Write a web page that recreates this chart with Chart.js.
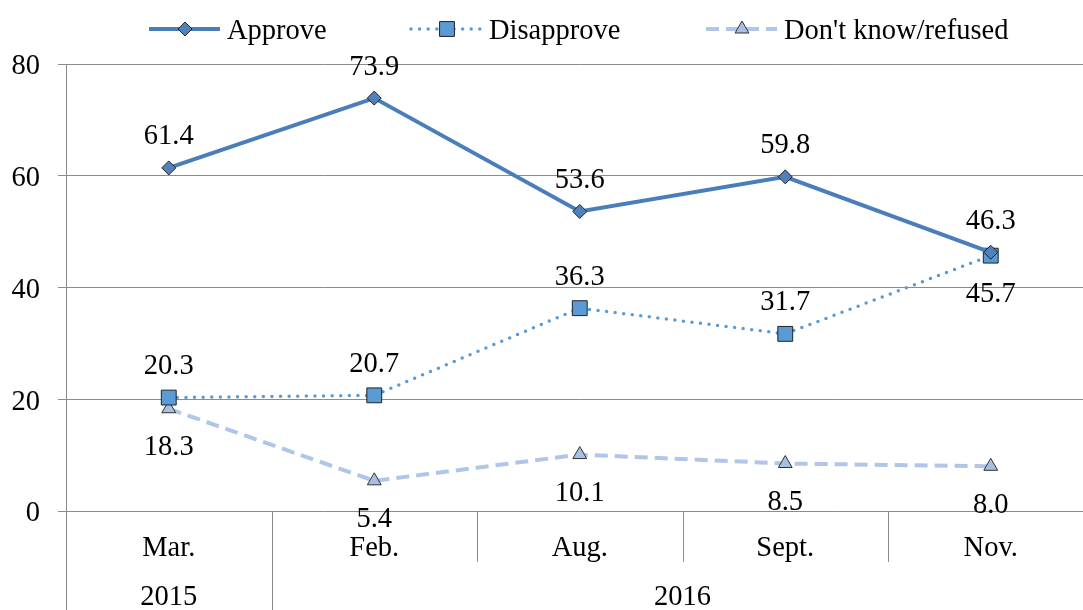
<!DOCTYPE html>
<html>
	<head>
		<title>Approve / Disapprove</title>
		<script src="https://cdnjs.cloudflare.com/ajax/libs/Chart.js/4.4.1/chart.umd.min.js"></script>
		<style>
			html, body {
				margin: 0;
				padding: 0;
				overflow: hidden;
				background: #fff;
			}
			canvas {
				display: block;
			}
		</style>
	</head>
	<body>
		<canvas id="lineChart" width="1105" height="610"></canvas>
		<script>
			// Data
			const months = ["Mar.", "Feb.", "Aug.", "Sept.", "Nov."];
			const years = ["2015", "2016", "2016", "2016", "2016"];
			const approve = [61.4, 73.9, 53.6, 59.8, 46.3];
			const disapprove = [20.3, 20.7, 36.3, 31.7, 45.7];
			const dontKnow = [18.3, 5.4, 10.1, 8.5, 8.0];
			const yTicks = [0, 20, 40, 60, 80];

			const FONT = "'Liberation Serif', 'Times New Roman', serif";
			const FONT_SIZE = 28.5;
			const GRID = "#8c8c8c";

			// where each value label sits: -1 above the point, 1 below
			const labelSide = [
				[-1, -1, -1, -1, -1],
				[-1, -1, -1, -1, 1],
				[1, 1, 1, 1, 1],
			];

			const legendX = [149, 411, 706];

			function drawMarker(ctx, style, x, y, r, fill, stroke) {
				ctx.save();
				ctx.fillStyle = fill;
				ctx.strokeStyle = stroke;
				ctx.lineWidth = 1;
				ctx.setLineDash([]);
				ctx.beginPath();
				if (style === "rectRot") {
					ctx.moveTo(x, y - r);
					ctx.lineTo(x + r, y);
					ctx.lineTo(x, y + r);
					ctx.lineTo(x - r, y);
				} else if (style === "rect") {
					const s = r * Math.SQRT1_2;
					ctx.rect(x - s, y - s, 2 * s, 2 * s);
				} else {
					ctx.moveTo(x, y - r);
					ctx.lineTo(x + r * 0.866, y + r * 0.5);
					ctx.lineTo(x - r * 0.866, y + r * 0.5);
				}
				ctx.closePath();
				ctx.fill();
				ctx.stroke();
				ctx.restore();
			}

			const extrasPlugin = {
				id: "extras",
				afterDraw(chart) {
					const ctx = chart.ctx;
					const area = chart.chartArea;
					const x = chart.scales.x;
					const h = chart.height;
					const step = x.getPixelForValue(1) - x.getPixelForValue(0);

					// category separators and the year row
					ctx.save();
					ctx.strokeStyle = GRID;
					ctx.lineWidth = 1;
					const bounds = [];
					for (let i = 0; i <= months.length; i++) {
						bounds.push(x.getPixelForValue(0) - step / 2 + i * step);
					}
					bounds.forEach((bx, i) => {
						const yearEdge = i === 0 || i === months.length || years[i] !== years[i - 1];
						const px = Math.round(bx) + 0.5;
						ctx.beginPath();
						ctx.moveTo(px, area.bottom);
						ctx.lineTo(px, yearEdge ? h : area.bottom + 51);
						ctx.stroke();
					});

					ctx.fillStyle = "#000";
					ctx.font = FONT_SIZE + "px " + FONT;
					ctx.textAlign = "center";
					ctx.textBaseline = "middle";
					let start = 0;
					for (let i = 1; i <= years.length; i++) {
						if (i === years.length || years[i] !== years[start]) {
							const cx = (bounds[start] + bounds[i]) / 2;
							ctx.fillText(years[start], cx, 598);
							start = i;
						}
					}

					// value labels
					chart.data.datasets.forEach((ds, di) => {
						const meta = chart.getDatasetMeta(di);
						meta.data.forEach((pt, i) => {
							const off = labelSide[di][i] < 0 ? -31 : 39;
							ctx.fillText(ds.data[i].toFixed(1), pt.x, pt.y + off);
						});
					});

					// legend
					chart.data.datasets.forEach((ds, di) => {
						const lx = legendX[di];
						const ly = 29;
						ctx.save();
						ctx.strokeStyle = ds.borderColor;
						ctx.lineWidth = ds.borderWidth;
						ctx.lineCap = ds.borderCapStyle || "butt";
						ctx.setLineDash(ds.borderDash || []);
						ctx.beginPath();
						ctx.moveTo(lx, ly);
						ctx.lineTo(lx + 71, ly);
						ctx.stroke();
						ctx.restore();
						drawMarker(ctx, ds.pointStyle, lx + 36, ly, ds.pointRadius, ds.pointBackgroundColor, ds.pointBorderColor);
						ctx.textAlign = "left";
						ctx.fillText(ds.label, lx + 78, ly + 3);
					});
					ctx.restore();
				},
			};

			const data = {
				labels: months,
				datasets: [
					{
						label: "Approve",
						data: approve,
						borderColor: "#4a7ebb",
						borderWidth: 4,
						pointStyle: "rectRot",
						pointRadius: 7,
						pointBackgroundColor: "#4f81bd",
						pointBorderColor: "#222",
						pointBorderWidth: 1,
						tension: 0,
					},
					{
						label: "Disapprove",
						data: disapprove,
						borderColor: "#5b9bd5",
						borderWidth: 3.5,
						borderDash: [0, 8.6],
						borderCapStyle: "round",
						pointStyle: "rect",
						pointRadius: 10.5,
						pointBackgroundColor: "#5b9bd5",
						pointBorderColor: "#222",
						pointBorderWidth: 1,
						tension: 0,
					},
					{
						label: "Don't know/refused",
						data: dontKnow,
						borderColor: "#b0c6e8",
						borderWidth: 4,
						borderDash: [13, 7],
						pointStyle: "triangle",
						pointRadius: 8,
						pointBackgroundColor: "#a7bfe2",
						pointBorderColor: "#333",
						pointBorderWidth: 1,
						tension: 0,
					},
				],
			};

			const config = {
				type: "line",
				data: data,
				plugins: [extrasPlugin],
				options: {
					responsive: false,
					animation: false,
					layout: {
						padding: { top: 64, right: 0, left: 0, bottom: 0 },
					},
					plugins: {
						legend: { display: false },
						tooltip: { enabled: false },
					},
					scales: {
						x: {
							offset: true,
							grid: { display: false },
							border: { display: false },
							ticks: {
								color: "#000",
								font: { family: FONT, size: FONT_SIZE },
								padding: 12,
								maxRotation: 0,
							},
							afterFit(scale) {
								scale.height = 99;
							},
						},
						y: {
							min: 0,
							max: 80,
							afterBuildTicks(scale) {
								scale.ticks = yTicks.map((v) => ({ value: v }));
							},
							grid: {
								color: GRID,
								tickLength: 8,
							},
							border: { color: GRID },
							ticks: {
								color: "#000",
								font: { family: FONT, size: FONT_SIZE },
								padding: 18,
								labelOffset: 3,
							},
							afterFit(scale) {
								scale.width = 66;
							},
						},
					},
				},
			};

			new Chart(document.getElementById("lineChart"), config);
		</script>
	</body>
</html>
